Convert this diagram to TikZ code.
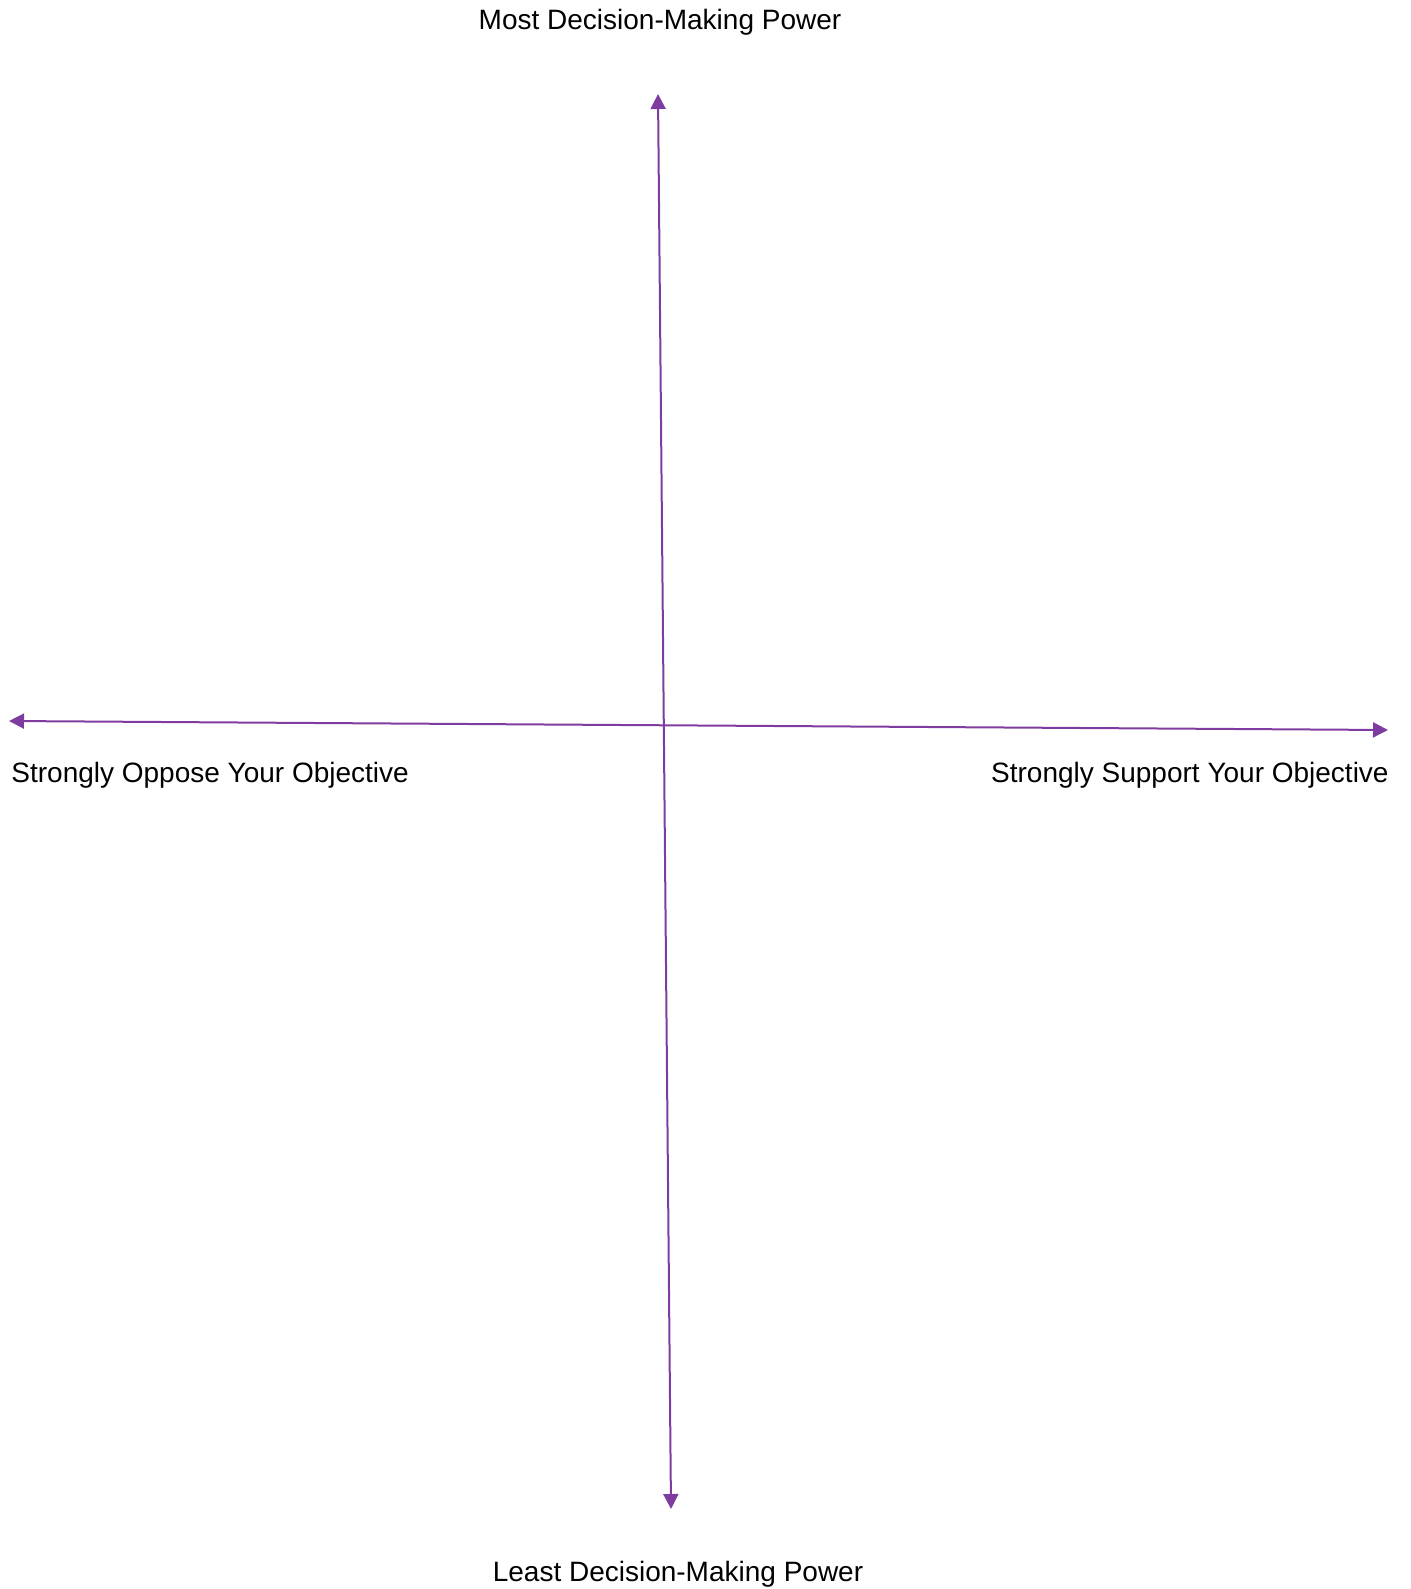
\documentclass[tikz,border=0pt]{standalone}
\usepackage{fontspec}
\setmainfont{Liberation Sans}
\usetikzlibrary{arrows.meta}
\definecolor{axispurple}{RGB}{127,60,160}
\begin{document}
\begin{tikzpicture}[x=0.5pt,y=-0.5pt,font=\fontsize{14}{17}\selectfont, line join=round, >={Triangle[length=7.5pt,width=7.5pt]}]
		\useasboundingbox (0,0) rectangle (1410,1589);
		\coordinate (top) at (658,94);
		\coordinate (bottom) at (671,1509);
		\coordinate (left) at (9,721);
		\coordinate (right) at (1388,730);
		\draw[<->,axispurple,line width=1pt] (top)--(bottom);
		\draw[<->,axispurple,line width=1pt] (left)--(right);
		\node[anchor=base,inner sep=0pt] (most) at (660,30) {Most Decision-Making Power};
		\node[anchor=base,inner sep=0pt] (least) at (678,1581) {Least Decision-Making Power};
		\node[anchor=base west,inner sep=0pt] (oppose) at (11,782) {Strongly Oppose Your Objective};
		\node[anchor=base east,inner sep=0pt] (support) at (1389,782) {Strongly Support Your Objective};
		\end{tikzpicture}
\end{document}
